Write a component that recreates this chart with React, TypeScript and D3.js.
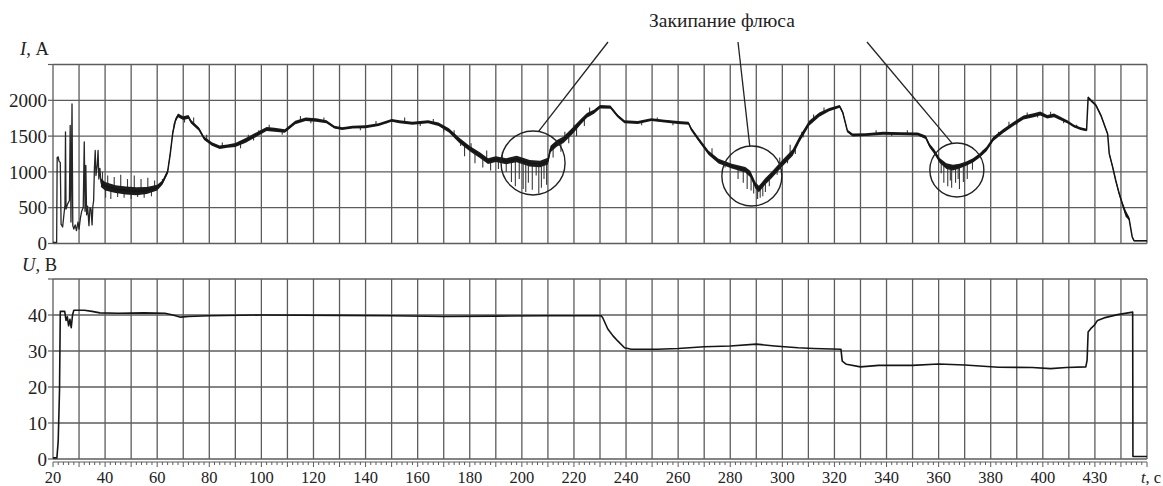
import React from "react";
import * as d3 from "d3";

// ---------- data ----------
const xTickValues = [20, 40, 60, 80, 100, 120, 140, 160, 180, 200, 220, 240, 260, 280, 300, 320, 340, 360, 380, 400, 420];
const xTickLabels = ["20", "40", "60", "80", "100", "120", "140", "160", "180", "200", "220", "240", "260", "280", "300", "320", "340", "360", "380", "400", "430"];
const currentTicks = [0, 500, 1000, 1500, 2000];
const voltageTicks = [0, 10, 20, 30, 40];

// start-up of the arc: spiky current [t, I]
const currentStartup: [number, number][] = [
  [20, 15], [21.4, 15], [21.6, 1200], [22.0, 1210], [22.3, 1150], [22.8, 1130], [23.1, 270],
  [23.7, 230], [24.1, 370], [24.6, 540], [24.8, 1560], [25.0, 480], [25.6, 550], [26.3, 600],
  [26.6, 1650], [26.9, 300], [27.3, 1950], [27.6, 250], [28.0, 200], [28.5, 260], [29.0, 180],
  [29.6, 300], [30.0, 200], [30.5, 350], [31.0, 450], [31.6, 500], [32.0, 1420], [32.3, 450],
  [32.6, 1090], [32.9, 400], [33.3, 520], [33.8, 250], [34.2, 500], [34.6, 480], [35.0, 260],
  [35.3, 520], [35.6, 600], [35.9, 1050], [36.2, 1300], [36.5, 950], [37.0, 1100], [37.3, 1300],
  [37.6, 900], [38.0, 1050], [38.4, 850],
];

// main current trace [t, I, noise half-width]
const currentTrace: [number, number, number][] = [
  [38.4, 850, 60], [40, 800, 60], [44, 760, 55], [48, 740, 55], [52, 730, 55], [56, 740, 50], [60, 780, 40],
  [62, 850, 30], [64, 1000, 30], [65, 1250, 30], [66, 1550, 30], [67, 1720, 28], [68, 1790, 26],
  [70, 1750, 26], [72, 1770, 26], [73, 1700, 24], [76, 1600, 24], [78, 1470, 24], [81, 1390, 24],
  [84, 1345, 24], [87, 1360, 24], [90, 1375, 28], [94, 1440, 32], [98, 1520, 32], [102, 1600, 28],
  [105, 1590, 28], [109, 1570, 24], [113, 1690, 24], [117, 1735, 24], [121, 1725, 24], [125, 1700, 22],
  [128, 1625, 20], [131, 1605, 20], [135, 1625, 20], [140, 1630, 20], [145, 1660, 20], [150, 1720, 20],
  [153, 1700, 20], [158, 1680, 20], [164, 1700, 20], [168, 1665, 24], [172, 1580, 30], [176, 1440, 36],
  [180, 1325, 36], [184, 1230, 40], [187, 1150, 40], [190, 1180, 40], [194, 1150, 42], [198, 1180, 45],
  [203, 1120, 45], [207, 1110, 45], [210, 1150, 48], [211, 1320, 45], [213.5, 1400, 45], [216, 1450, 45],
  [219.4, 1570, 45], [222.6, 1700, 38], [225, 1790, 34], [227.7, 1840, 28], [230, 1910, 24],
  [234, 1905, 22], [236.8, 1780, 20], [239.4, 1700, 20], [244.5, 1690, 20], [249.7, 1730, 20],
  [254.8, 1710, 20], [260, 1690, 20], [264, 1680, 20], [265, 1600, 24], [267.7, 1460, 26],
  [271.6, 1270, 30], [275.5, 1150, 32], [280.6, 1080, 34], [285.8, 1030, 40], [287.7, 970, 45],
  [289.7, 810, 45], [291, 760, 45], [293.5, 870, 45], [296, 960, 45], [300, 1120, 45], [304, 1270, 45],
  [306.5, 1450, 40], [310.3, 1680, 34], [314.2, 1800, 28], [318, 1870, 24], [322, 1915, 20],
  [323.2, 1830, 20], [325, 1570, 20], [327, 1515, 20], [332, 1520, 20], [338.7, 1540, 20],
  [345, 1535, 20], [352, 1530, 20], [355, 1485, 24], [356.5, 1370, 28], [358.4, 1280, 34],
  [360.4, 1160, 34], [363, 1080, 40], [365.5, 1060, 40], [368, 1080, 34], [370.6, 1115, 30],
  [373.2, 1160, 30], [375.8, 1230, 30], [378.4, 1320, 30], [381, 1460, 30], [384.8, 1570, 28],
  [388.7, 1670, 28], [392.6, 1760, 28], [396.5, 1790, 28], [399, 1815, 28], [401.7, 1770, 25],
  [404.3, 1790, 25], [406.8, 1745, 24], [409.4, 1700, 20], [412, 1640, 20], [414.5, 1605, 20],
  [416.8, 1585, 18], [417.4, 2040, 18], [418.4, 2000, 18], [420.4, 1930, 18], [422.3, 1790, 18],
  [424.2, 1600, 18], [424.9, 1530, 18], [425.5, 1255, 22], [426.8, 1070, 22], [428, 880, 25],
  [429.3, 700, 28], [430.5, 560, 28], [431.8, 420, 45], [433.1, 350, 25], [434.3, 95, 10],
  [435, 40, 8], [440, 40, 8],
];

// individual noise spikes [t, I]
const currentSpikes: [number, number][] = [
  [39, 1000], [40.2, 640], [41, 950], [42.2, 620], [43.5, 930], [44.8, 650], [46, 960], [47.3, 640],
  [48.6, 900], [50, 620], [51.2, 950], [52.5, 650], [53.8, 900], [55, 640], [56.4, 920], [57.8, 660],
  [59, 880],
  [62, 900], [66.5, 1680], [70.5, 1690], [74, 1760], [79, 1520], [85, 1410], [92, 1330], [95, 1520],
  [97, 1440], [99, 1580], [103, 1660], [108, 1520], [111, 1640], [115, 1780], [119, 1680], [124, 1760],
  [130, 1660], [138, 1580], [144, 1710], [148, 1680], [155, 1760], [161, 1640], [166, 1740],
  [170, 1560], [174, 1580], [176.5, 1360], [178, 1220], [180.5, 1400], [182, 1120], [185, 1060],
  [186.5, 1300], [188, 1020], [191, 1040], [192.5, 1280], [194, 1000],
  [196, 860], [197.5, 800], [199, 900], [200.5, 760], [201.5, 720], [202.5, 850], [204, 750],
  [205.5, 950], [206.5, 700], [207.5, 780], [208.5, 900], [209.5, 820], [212, 1200], [215, 1280],
  [216.5, 1560], [218, 1400], [220, 1660], [221, 1500], [224, 1640], [226, 1900],
  [238, 1740], [246, 1650], [252, 1760], [258, 1650], [269, 1380], [273, 1330], [278, 1060],
  [283, 900], [285, 850], [286.5, 760], [288, 740], [289, 700], [290.5, 620], [291.5, 640],
  [292.5, 660], [293.5, 720], [295, 800], [298, 960], [299, 1200], [302, 1120], [303, 1380],
  [305, 1250], [307.5, 1560], [308, 1480], [312, 1800], [316, 1900],
  [330, 1480], [336, 1580], [342, 1500], [348, 1580], [353, 1490],
  [361, 980], [362, 850], [363.5, 800], [364.5, 880], [365, 780], [366.5, 850], [367.5, 900],
  [368, 760], [369.5, 860], [371, 900], [373, 1030], [377, 1300], [380, 1390], [383, 1560],
  [387, 1700], [390, 1660], [394, 1830], [398, 1760], [403, 1840], [408, 1680], [413, 1660],
];

// voltage trace [t, U]
const voltageTrace: [number, number][] = [
  [20, 0.3], [21.5, 0.3], [22.0, 5], [22.5, 19], [22.8, 41], [24.5, 41], [25, 38.5], [25.5, 39.5],
  [26, 37], [26.5, 38.8], [27, 36.5], [27.5, 40], [28, 41.3], [32, 41.3], [35, 41], [38, 40.6],
  [45, 40.5], [55, 40.6], [63, 40.5], [66, 40], [69, 39.4], [72, 39.6], [80, 39.8], [100, 40],
  [130, 39.9], [150, 39.8], [170, 39.6], [190, 39.7], [210, 39.8], [230.4, 39.8], [231, 39.3],
  [233, 36.1], [235, 34.2], [236.8, 32.8], [239.4, 30.9], [242, 30.5], [252, 30.5], [260, 30.7],
  [270, 31.2], [280, 31.4], [290, 31.9], [297, 31.4], [306, 30.9], [312, 30.7], [322.5, 30.5],
  [323, 27.2], [324.6, 26.3], [330, 25.6], [337, 26], [350, 26], [360, 26.4], [370, 26.1],
  [383, 25.5], [396, 25.4], [403, 25.1], [409, 25.4], [416.5, 25.6], [417, 27.4], [417.4, 35.3],
  [418.4, 36.2], [419.7, 37.1], [421, 38.5], [423.5, 39.2], [428.7, 40.1], [434.5, 40.8],
  [434.6, 0.7], [440, 0.7],
];

// flux boiling zones (centre in data units) [t, I]
const boilingZones: [number, number][] = [[204.3, 1125], [288.3, 943], [367, 1027]];
const annotationText = "Закипание флюса";

// ---------- layout ----------
const W = 1163;
const H = 486;
const LEFT = 53;
const RIGHT = 1147;
const FONT = '"Liberation Serif", "Times New Roman", "DejaVu Serif", serif';
const GRID = "#5c5c5c";
const INK = "#151515";
const txt: React.CSSProperties = { fontFamily: FONT };

export default function App() {
  const x = d3.scaleLinear().domain([20, 440]).range([LEFT, RIGHT]);
  const yI = d3.scaleLinear().domain([0, 2500]).range([243.5, 64.5]);
  const yU = d3.scaleLinear().domain([0, 50]).range([459, 279]);

  const gridT = d3.range(20, 441, 10);
  const minorT = d3.range(20, 441, 2);
  const iGrid = d3.range(0, 2501, 500);
  const uGrid = d3.range(0, 51, 10);

  const startLine = d3.line<[number, number]>().x((d) => x(d[0])).y((d) => yI(d[1]))(currentStartup) || "";
  const band = d3
    .area<[number, number, number]>()
    .x((d) => x(d[0]))
    .y0((d) => yI(Math.max(0, d[1] - d[2])))
    .y1((d) => yI(d[1] + d[2]))(currentTrace) || "";
  const mid = d3.line<[number, number, number]>().x((d) => x(d[0])).y((d) => yI(d[1]))(currentTrace) || "";
  const uLine = d3.line<[number, number]>().x((d) => x(d[0])).y((d) => yU(d[1]))(voltageTrace) || "";

  const midAt = (t: number) => {
    const i = d3.bisector((d: [number, number, number]) => d[0]).left(currentTrace, t);
    const a = currentTrace[Math.max(0, i - 1)];
    const b = currentTrace[Math.min(currentTrace.length - 1, i)];
    if (a[0] === b[0]) return a[1];
    return a[1] + ((b[1] - a[1]) * (t - a[0])) / (b[0] - a[0]);
  };

  const radii = [32, 30, 27];
  const leaderStarts = [[608, 42], [738, 42], [867, 42]];
  const attachDeg = [10, -4, -10];

  const panel = (yScale: d3.ScaleLinear<number, number>, hGrid: number[], key: string) => (
    <g key={key}>
      {gridT.map((t) => (
        <line key={"v" + t} x1={x(t)} x2={x(t)} y1={yScale.range()[1]} y2={yScale.range()[0]} stroke={GRID} strokeWidth={1.3} />
      ))}
      {hGrid.map((v) => (
        <line key={"h" + v} x1={LEFT} x2={RIGHT} y1={yScale(v)} y2={yScale(v)} stroke={GRID} strokeWidth={1.3} />
      ))}
      {hGrid.map((v) => (
        <line key={"t" + v} x1={LEFT - 5} x2={LEFT} y1={yScale(v)} y2={yScale(v)} stroke={GRID} strokeWidth={1.2} />
      ))}
    </g>
  );

  return (
    <svg width={W} height={H} style={{ position: "absolute", left: 0, top: 0, display: "block", background: "#fff", fontFamily: FONT }}>
      <rect x={0} y={0} width={W} height={H} fill="#fff" />
      {panel(yI, iGrid, "pI")}
      {panel(yU, uGrid, "pU")}

      {/* y tick labels */}
      {currentTicks.map((v) => (
        <text key={"il" + v} x={47} y={yI(v)} dy="0.35em" textAnchor="end" fontSize={19} fill="#222" style={txt}>{v}</text>
      ))}
      {voltageTicks.map((v) => (
        <text key={"ul" + v} x={47} y={yU(v)} dy="0.35em" textAnchor="end" fontSize={19} fill="#222" style={txt}>{v}</text>
      ))}
      <text x={20} y={55} fontSize={18.5} fill="#222" style={txt}><tspan fontStyle="italic">I</tspan>, А</text>
      <text x={22} y={271} fontSize={18.5} fill="#222" style={txt}><tspan fontStyle="italic">U</tspan>, В</text>

      {/* bottom time axis */}
      <line x1={LEFT} x2={RIGHT} y1={462} y2={462} stroke={GRID} strokeWidth={1} />
      {minorT.map((t) => (
        <line key={"m" + t} x1={x(t)} x2={x(t)} y1={462} y2={(t - 20) % 10 === 0 ? 467 : 465} stroke={GRID} strokeWidth={1} />
      ))}
      {xTickValues.map((t, i) => (
        <text key={"xl" + t} x={x(t)} y={483} textAnchor="middle" fontSize={16.5} fill="#222" style={txt}>{xTickLabels[i]}</text>
      ))}
      <text x={1141} y={483} fontSize={16.5} fill="#222" style={txt}><tspan fontStyle="italic">t</tspan>, с</text>

      {/* current */}
      <path d={startLine} fill="none" stroke="#262626" strokeWidth={1.3} strokeLinejoin="round" />
      {currentSpikes.map(([t, v], i) => (
        <line key={"s" + i} x1={x(t)} x2={x(t)} y1={yI(midAt(t))} y2={yI(v)} stroke="#3a3a3a" strokeWidth={1.1} />
      ))}
      <path d={band} fill="#1c1c1c" stroke="none" />
      <path d={mid} fill="none" stroke={INK} strokeWidth={1.5} strokeLinejoin="round" />

      {/* voltage */}
      <path d={uLine} fill="none" stroke={INK} strokeWidth={1.6} strokeLinejoin="round" />

      {/* annotation */}
      <text x={722} y={27} textAnchor="middle" fontSize={19.5} fill="#222" style={txt}>{annotationText}</text>
      {boilingZones.map(([t, v], i) => {
        const cx = x(t);
        const cy = yI(v);
        const r = radii[i];
        const a = (attachDeg[i] * Math.PI) / 180;
        const ex = cx + r * Math.sin(a);
        const ey = cy - r * Math.cos(a);
        return (
          <g key={"z" + i}>
            <circle cx={cx} cy={cy} r={r} fill="none" stroke="#222" strokeWidth={1.4} />
            <line x1={leaderStarts[i][0]} y1={leaderStarts[i][1]} x2={ex} y2={ey} stroke="#222" strokeWidth={1.3} />
          </g>
        );
      })}
    </svg>
  );
}
